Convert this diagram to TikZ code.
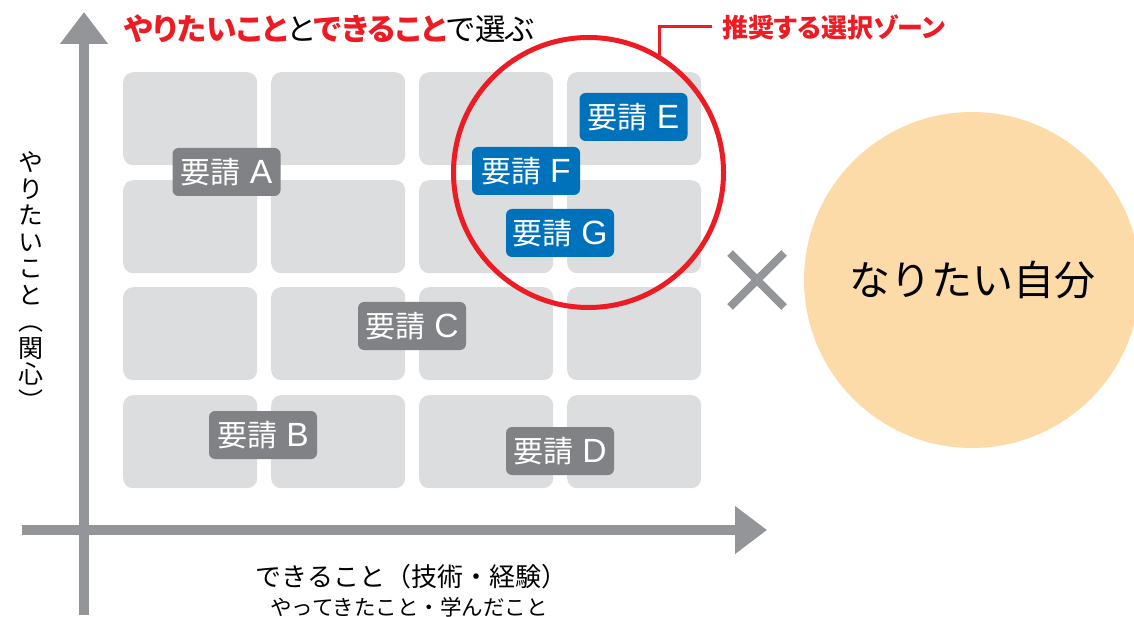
\documentclass[tikz,border=0pt]{standalone}
\usepackage{fontspec}
\usepackage{xcolor}
\usetikzlibrary{positioning,arrows.meta}
\setmainfont{Noto Sans CJK JP}
\newfontfamily\jpp[RawFeature=+palt]{Noto Sans CJK JP}
\newfontfamily\jpvert[RawFeature=+vert]{Noto Sans CJK JP}
\newfontfamily\latinfont[Scale=1.12]{Liberation Sans}
\definecolor{axisgray}{HTML}{939598}
\definecolor{cellgray}{HTML}{DCDDDE}
\definecolor{reqgray}{HTML}{808285}
\definecolor{reqblue}{HTML}{0072BC}
\definecolor{zonered}{HTML}{ED1C24}
\definecolor{selfpeach}{HTML}{FCDBA9}
\newcommand{\fs}[1]{\fontsize{#1}{#1}\selectfont}
\newcommand{\reqtext}[1]{要請\hspace{0.3em}{\latinfont #1}}

\begin{document}
\begin{tikzpicture}[x=1pt, y=-1pt,
        cell box/.style={fill=cellgray, rounded corners=10pt, minimum width=134pt, minimum height=93pt, inner sep=0pt, anchor=north west},
        req node/.style={fill=reqgray, text=white, rounded corners=6pt, minimum width=108pt, minimum height=48pt, inner sep=0pt, font=\fs{30}},
        pick node/.style={req node, fill=reqblue},
        axis line/.style={draw=axisgray, line width=10pt, -{Triangle[length=32pt,width=46pt]}}]
    \useasboundingbox (0,0) rectangle (1134,617);

    % axes
    \coordinate (yfoot) at (84,615);
    \coordinate (ytip) at (84,12);
    \coordinate (xfoot) at (22,530);
    \coordinate (xtip) at (767,530);
    \draw[axis line] (yfoot) -- (ytip);
    \draw[axis line] (xfoot) -- (xtip);

    % grid
    \foreach \i/\x in {1/123,2/271,3/419,4/567}
        \foreach \j/\y in {1/72,2/180,3/287,4/395}
            \node[cell box] (c\i\j) at (\x,\y) {};

    \node[req node] (A) at (226.5,172) {\reqtext{A}};
    \node[req node] (B) at (263,435) {\reqtext{B}};
    \node[req node] (C) at (412,326) {\reqtext{C}};
    \node[req node] (D) at (560,451) {\reqtext{D}};
    \node[pick node] (E) at (633.5,117) {\reqtext{E}};
    \node[pick node] (F) at (526,171) {\reqtext{F}};
    \node[pick node] (G) at (560,233) {\reqtext{G}};

    % zone
    \node[circle, draw=zonered, line width=5pt, minimum size=270pt, inner sep=0pt] (zone) at (588.5,172.5) {};
    \node[anchor=west, inner sep=10pt, text=zonered, font=\jpp\bfseries\fs{26}] (zonetext) at (712,27) {推奨する選択ゾーン};
    \draw[zonered, line width=3pt] (zone.59) |- (zonetext.west);

    % titles
    \node[anchor=west, inner sep=0pt, font=\jpp\fs{30.5}] (title) at (124,29)
        {\textcolor{zonered}{\bfseries やりたいこと}と\textcolor{zonered}{\bfseries できること}で選ぶ};
    \node[inner sep=0pt, align=center, font={\jpvert\fontsize{25}{26.5}\selectfont}] (ylabel) at (31,281)
        {や\\り\\た\\い\\こ\\と\\（\\関\\心\\）};
    \node[inner sep=0pt, font=\fs{26}] (xlabel) at (411.5,577) {できること（技術・経験）};
    \node[inner sep=0pt, font=\fs{21.5}] (xsub) at (409,607) {やってきたこと・学んだこと};

    % times and goal
    \node (cross) at (757,280) {};
    \draw[axisgray, line width=8pt] (cross.center) ++(-27,-27) -- ++(54,54);
    \draw[axisgray, line width=8pt] (cross.center) ++(27,-27) -- ++(-54,54);
    \node[circle, fill=selfpeach, minimum size=336pt, inner sep=0pt, font=\fs{41}] (self) at (972,280) {なりたい自分};
\end{tikzpicture}
\end{document}
